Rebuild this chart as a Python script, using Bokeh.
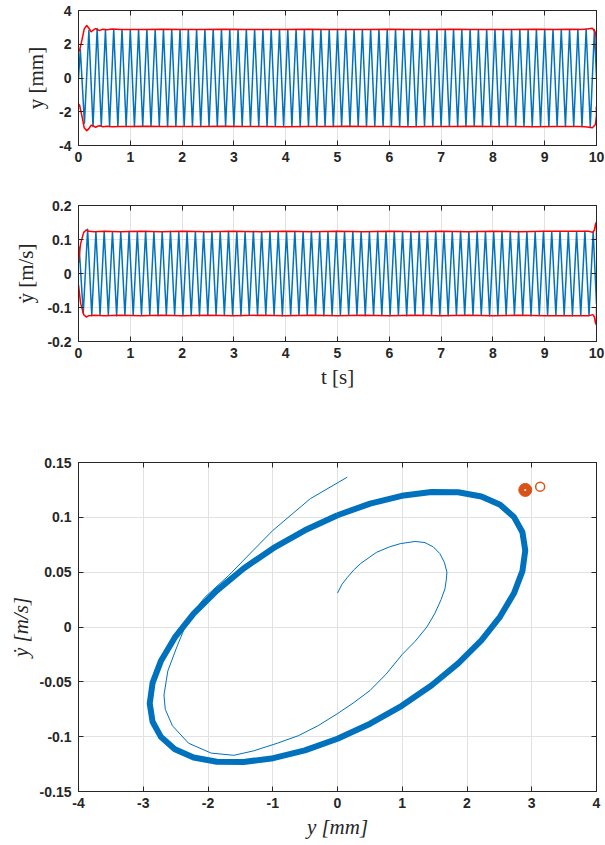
from bokeh.plotting import figure
from bokeh.layouts import column
from bokeh.models import LinearAxis, FixedTicker, Range1d, Grid, CustomJSTickFormatter
from bokeh.embed import file_html
from bokeh.resources import INLINE

BLUE = "#0072BD"
RED = "#FF0000"
ORANGE = "#D95319"
AXC = "#262626"

# ---------------- time series: displacement y [mm] (extrema of the oscillation) ----------------
y_t = [0.000, 0.035, 0.115,
       0.20, 0.28, 0.36, 0.44, 0.52, 0.60, 0.68, 0.76, 0.84, 0.92,
       1.00, 1.08, 1.16, 1.24, 1.32, 1.40, 1.48, 1.56, 1.64, 1.72, 1.80, 1.88, 1.96,
       2.04, 2.12, 2.20, 2.28, 2.36, 2.44, 2.52, 2.60, 2.68, 2.76, 2.84, 2.92,
       3.00, 3.08, 3.16, 3.24, 3.32, 3.40, 3.48, 3.56, 3.64, 3.72, 3.80, 3.88, 3.96,
       4.04, 4.12, 4.20, 4.28, 4.36, 4.44, 4.52, 4.60, 4.68, 4.76, 4.84, 4.92,
       5.00, 5.08, 5.16, 5.24, 5.32, 5.40, 5.48, 5.56, 5.64, 5.72, 5.80, 5.88, 5.96,
       6.04, 6.12, 6.20, 6.28, 6.36, 6.44, 6.52, 6.60, 6.68, 6.76, 6.84, 6.92,
       7.00, 7.08, 7.16, 7.24, 7.32, 7.40, 7.48, 7.56, 7.64, 7.72, 7.80, 7.88, 7.96,
       8.04, 8.12, 8.20, 8.28, 8.36, 8.44, 8.52, 8.60, 8.68, 8.76, 8.84, 8.92,
       9.00, 9.08, 9.16, 9.24, 9.32, 9.40, 9.48, 9.56, 9.64, 9.72, 9.80, 9.88, 9.96,
       10.00]
y_val = [0.0, 1.69, -2.68,
         2.82, -2.88, 2.93, -2.85, 2.84, -2.87, 2.88, -2.86, 2.87, -2.87,
         2.86, -2.88, 2.87, -2.86, 2.88, -2.87, 2.86, -2.86, 2.87, -2.88, 2.86, -2.87, 2.88,
         -2.86, 2.87, -2.87, 2.86, -2.88, 2.87, -2.86, 2.88, -2.87, 2.86, -2.86, 2.87,
         -2.88, 2.86, -2.87, 2.88, -2.86, 2.87, -2.87, 2.86, -2.88, 2.87, -2.86, 2.88, -2.87,
         2.86, -2.86, 2.87, -2.88, 2.86, -2.87, 2.88, -2.86, 2.87, -2.87, 2.86, -2.88,
         2.87, -2.86, 2.88, -2.87, 2.86, -2.86, 2.87, -2.88, 2.86, -2.87, 2.88, -2.86, 2.87,
         -2.87, 2.86, -2.88, 2.87, -2.86, 2.88, -2.87, 2.86, -2.86, 2.87, -2.88, 2.86,
         -2.87, 2.88, -2.86, 2.87, -2.87, 2.86, -2.88, 2.87, -2.86, 2.88, -2.87, 2.86, -2.86,
         2.87, -2.88, 2.86, -2.87, 2.88, -2.86, 2.87, -2.87, 2.86, -2.88, 2.87, -2.86,
         2.88, -2.87, 2.86, -2.86, 2.87, -2.88, 2.86, -2.87, 2.89, -2.88, 2.90, -2.90, 2.88,
         0.0]

# envelope of y (red)
env_y_t = [0.00, 0.02, 0.07, 0.11, 0.16, 0.20, 0.245, 0.29, 0.33, 0.37,
           0.41, 0.47, 0.55, 0.65, 0.80, 1.00, 1.30, 1.60, 2.00, 2.40,
           2.80, 3.20, 3.60, 4.00, 4.40, 4.80, 5.20, 5.60, 6.00, 6.40,
           6.80, 7.20, 7.60, 8.00, 8.40, 8.80, 9.20, 9.50, 9.70, 9.82,
           9.92, 9.98, 10.00, 9.995]
env_y_up = [1.59, 1.62, 2.30, 2.90, 3.11, 2.95, 2.74, 2.85, 2.93, 2.86,
            2.82, 2.89, 2.86, 2.90, 2.87, 2.88, 2.87, 2.89, 2.88, 2.87,
            2.89, 2.88, 2.87, 2.88, 2.89, 2.87, 2.88, 2.87, 2.89, 2.88,
            2.87, 2.89, 2.88, 2.87, 2.88, 2.89, 2.87, 2.89, 2.88, 2.91,
            2.95, 2.70, 2.20, 1.65]
env_y_lo = [-1.55, -1.60, -2.30, -2.95, -3.12, -3.00, -2.80, -2.84, -2.92, -2.86,
            -2.83, -2.89, -2.86, -2.89, -2.87, -2.88, -2.86, -2.88, -2.87, -2.88,
            -2.86, -2.88, -2.87, -2.89, -2.87, -2.88, -2.86, -2.88, -2.87, -2.89,
            -2.87, -2.88, -2.86, -2.88, -2.87, -2.89, -2.87, -2.88, -2.87, -2.90,
            -2.95, -2.75, -2.20, -1.70]

# ---------------- time series: velocity ydot [m/s] (extrema) ----------------
v_t = [0.000, 0.012, 0.092,
       0.176, 0.256, 0.336, 0.416, 0.496, 0.576, 0.656, 0.736, 0.816, 0.896,
       0.976, 1.056, 1.136, 1.216, 1.296, 1.376, 1.456, 1.536, 1.616, 1.696, 1.776, 1.856, 1.936,
       2.016, 2.096, 2.176, 2.256, 2.336, 2.416, 2.496, 2.576, 2.656, 2.736, 2.816, 2.896,
       2.976, 3.056, 3.136, 3.216, 3.296, 3.376, 3.456, 3.536, 3.616, 3.696, 3.776, 3.856, 3.936,
       4.016, 4.096, 4.176, 4.256, 4.336, 4.416, 4.496, 4.576, 4.656, 4.736, 4.816, 4.896,
       4.976, 5.056, 5.136, 5.216, 5.296, 5.376, 5.456, 5.536, 5.616, 5.696, 5.776, 5.856, 5.936,
       6.016, 6.096, 6.176, 6.256, 6.336, 6.416, 6.496, 6.576, 6.656, 6.736, 6.816, 6.896,
       6.976, 7.056, 7.136, 7.216, 7.296, 7.376, 7.456, 7.536, 7.616, 7.696, 7.776, 7.856, 7.936,
       8.016, 8.096, 8.176, 8.256, 8.336, 8.416, 8.496, 8.576, 8.656, 8.736, 8.816, 8.896,
       8.976, 9.056, 9.136, 9.216, 9.296, 9.376, 9.456, 9.536, 9.616, 9.696, 9.776, 9.856, 9.936,
       10.000]
v_val = [0.031, 0.078, -0.117,
         0.130, -0.124, 0.123, -0.123, 0.124, -0.122, 0.123, -0.124, 0.122, -0.123,
         0.124, -0.123, 0.123, -0.122, 0.124, -0.123, 0.123, -0.124, 0.122, -0.123, 0.124, -0.123, 0.123,
         -0.122, 0.124, -0.123, 0.123, -0.124, 0.122, -0.123, 0.124, -0.123, 0.123, -0.122, 0.124,
         -0.123, 0.123, -0.124, 0.122, -0.123, 0.124, -0.123, 0.123, -0.122, 0.124, -0.123, 0.123, -0.124,
         0.122, -0.123, 0.124, -0.123, 0.123, -0.122, 0.124, -0.123, 0.123, -0.124, 0.122, -0.123,
         0.124, -0.123, 0.123, -0.122, 0.124, -0.123, 0.123, -0.124, 0.122, -0.123, 0.124, -0.123, 0.123,
         -0.122, 0.124, -0.123, 0.123, -0.124, 0.122, -0.123, 0.124, -0.123, 0.123, -0.122, 0.124,
         -0.123, 0.123, -0.124, 0.122, -0.123, 0.124, -0.123, 0.123, -0.122, 0.124, -0.123, 0.123, -0.124,
         0.122, -0.123, 0.124, -0.123, 0.123, -0.122, 0.124, -0.123, 0.123, -0.124, 0.122, -0.123,
         0.124, -0.123, 0.123, -0.122, 0.124, -0.123, 0.123, -0.124, 0.122, -0.123, 0.124, -0.123, 0.123,
         -0.090]

# envelope of ydot (red)
env_v_t = [0.00, 0.04, 0.10, 0.15, 0.20, 0.30, 0.50, 0.80, 1.20, 1.60,
           2.00, 2.50, 3.00, 3.50, 4.00, 4.50, 5.00, 5.50, 6.00, 6.50,
           7.00, 7.50, 8.00, 8.50, 9.00, 9.50, 9.85, 9.93, 9.96, 9.98,
           10.00, 10.00]
env_v_up = [0.033, 0.087, 0.121, 0.128, 0.124, 0.123, 0.124, 0.123, 0.124, 0.123,
            0.124, 0.123, 0.124, 0.123, 0.124, 0.123, 0.124, 0.123, 0.124, 0.123,
            0.124, 0.123, 0.124, 0.123, 0.124, 0.124, 0.124, 0.121, 0.128, 0.145,
            0.151, 0.100]
env_v_lo = [-0.033, -0.087, -0.121, -0.128, -0.124, -0.123, -0.124, -0.123, -0.124, -0.123,
            -0.124, -0.123, -0.124, -0.123, -0.124, -0.123, -0.124, -0.123, -0.124, -0.123,
            -0.124, -0.123, -0.124, -0.123, -0.124, -0.124, -0.124, -0.121, -0.128, -0.145,
            -0.151, -0.100]

# ---------------- phase portrait ----------------
# steady-state limit cycle (thick band), points read around the loop
band_y = [0.000, 0.504, 0.992, 1.450, 1.864, 2.222, 2.512, 2.725, 2.856,
          2.900, 2.856, 2.725, 2.512, 2.222, 1.864, 1.450, 0.992, 0.504,
          0.000, -0.504, -0.992, -1.450, -1.864, -2.222, -2.512, -2.725, -2.856,
          -2.900, -2.856, -2.725, -2.512, -2.222, -1.864, -1.450, -0.992, -0.504,
          0.000]
band_v = [0.1019, 0.1125, 0.1196, 0.1231, 0.1229, 0.1190, 0.1114, 0.1004, 0.0864,
          0.0698, 0.0510, 0.0307, 0.0095, -0.0121, -0.0332, -0.0534, -0.0719, -0.0882,
          -0.1019, -0.1125, -0.1196, -0.1231, -0.1229, -0.1190, -0.1114, -0.1004, -0.0864,
          -0.0698, -0.0510, -0.0307, -0.0095, 0.0121, 0.0332, 0.0534, 0.0719, 0.0882,
          0.1019]
# start-up transient (thin line)
thin_y = [0.00, 0.07, 0.15, 0.25, 0.36, 0.60, 0.80, 0.97, 1.20, 1.35,
          1.48, 1.58, 1.65, 1.69, 1.68, 1.66, 1.60, 1.50, 1.38, 1.20,
          1.00, 0.75, 0.50, 0.25, 0.00, -0.30, -0.60, -0.93, -1.30, -1.60,
          -1.95, -2.30, -2.55, -2.66, -2.68, -2.62, -2.48, -2.30, -2.05, -1.68,
          -1.30, -1.00, -0.42, 0.15]
thin_v = [0.031, 0.039, 0.045, 0.052, 0.058, 0.068, 0.073, 0.076, 0.078, 0.077,
          0.073, 0.067, 0.059, 0.050, 0.043, 0.035, 0.025, 0.012, 0.000, -0.013,
          -0.025, -0.043, -0.058, -0.069, -0.079, -0.090, -0.099, -0.106, -0.113, -0.117,
          -0.115, -0.106, -0.090, -0.075, -0.062, -0.040, -0.018, 0.008, 0.027, 0.047,
          0.070, 0.088, 0.117, 0.1366]
mk_fill_y = [2.90]
mk_fill_v = [0.125]
mk_open_y = [3.13]
mk_open_v = [0.128]

# ticks
t_ticks = [0, 1, 2, 3, 4, 5, 6, 7, 8, 9, 10]
y_ticks = [-4, -2, 0, 2, 4]
v_ticks = [-0.2, -0.1, 0, 0.1, 0.2]
ph_x_ticks = [-4, -3, -2, -1, 0, 1, 2, 3, 4]
ph_y_ticks = [-0.15, -0.1, -0.05, 0, 0.05, 0.1, 0.15]


def style_axis(ax, hidden=False):
    ax.axis_line_color = AXC
    ax.axis_line_width = 1
    ax.major_tick_line_color = AXC
    ax.major_tick_line_width = 1
    ax.major_tick_in = 5
    ax.major_tick_out = 0
    ax.minor_tick_line_color = None
    if hidden:
        ax.major_label_text_font_size = "0px"
        ax.major_label_standoff = 0
        ax.axis_label = None
    else:
        ax.major_label_text_font = "Liberation Sans"
        ax.major_label_text_font_style = "bold"
        ax.major_label_text_font_size = "14px"
        ax.major_label_text_color = AXC
        ax.axis_label_text_font = "Liberation Serif"
        ax.axis_label_text_font_size = "21px"
        ax.axis_label_text_color = AXC


def make_fig(x_rng, y_rng, fh, top, bottom, xt, yt, xlabel, ylabel, label_style="normal",
             ylab_standoff=8, xlab_standoff=4):
    p = figure(x_range=Range1d(*x_rng), y_range=Range1d(*y_rng),
               frame_width=518, frame_height=fh,
               min_border_left=78, min_border_right=9,
               min_border_top=top, min_border_bottom=bottom,
               output_backend="svg", toolbar_location=None,
               x_axis_type=None, y_axis_type=None)
    p.outline_line_color = AXC
    p.outline_line_width = 1
    p.background_fill_color = "white"
    p.border_fill_color = "white"
    fmt = CustomJSTickFormatter(code="return tick.toString();")
    blank = CustomJSTickFormatter(code="return '';")
    xa = LinearAxis(ticker=FixedTicker(ticks=xt), formatter=fmt)
    ya = LinearAxis(ticker=FixedTicker(ticks=yt), formatter=fmt)
    style_axis(xa)
    style_axis(ya)
    xa.major_label_standoff = 6
    ya.major_label_standoff = 7
    if xlabel:
        xa.axis_label = xlabel
        xa.axis_label_text_font_style = label_style
        xa.axis_label_standoff = xlab_standoff
    ya.axis_label = ylabel
    ya.axis_label_text_font_style = label_style
    ya.axis_label_standoff = ylab_standoff
    xa2 = LinearAxis(ticker=FixedTicker(ticks=xt), formatter=blank)
    ya2 = LinearAxis(ticker=FixedTicker(ticks=yt), formatter=blank)
    style_axis(xa2, hidden=True)
    style_axis(ya2, hidden=True)
    p.add_layout(xa, "below")
    p.add_layout(ya, "left")
    p.add_layout(xa2, "above")
    p.add_layout(ya2, "right")
    p.add_layout(Grid(dimension=0, ticker=FixedTicker(ticks=xt),
                      grid_line_color="#e2e2e2", grid_line_width=1))
    p.add_layout(Grid(dimension=1, ticker=FixedTicker(ticks=yt),
                      grid_line_color="#e2e2e2", grid_line_width=1))
    return p


# top: y
p1 = make_fig((0, 10), (-4, 4), 135, 10, 30, t_ticks, y_ticks, None, "y [mm]", ylab_standoff=8)
p1.line(y_t, y_val, line_color=BLUE, line_width=1.5, line_join="round")
p1.line(env_y_t, env_y_up, line_color=RED, line_width=1.5, line_join="round")
p1.line(env_y_t, env_y_lo, line_color=RED, line_width=1.5, line_join="round")

# middle: ydot
p2 = make_fig((0, 10), (-0.2, 0.2), 136, 30, 60, t_ticks, v_ticks, "t [s]", "ẏ [m/s]",
              ylab_standoff=6)
p2.line(v_t, v_val, line_color=BLUE, line_width=1.5, line_join="round")
p2.line(env_v_t, env_v_up, line_color=RED, line_width=1.5, line_join="round")
p2.line(env_v_t, env_v_lo, line_color=RED, line_width=1.5, line_join="round")

# bottom: phase portrait
p3 = make_fig((-4, 4), (-0.15, 0.15), 329, 61, 50, ph_x_ticks, ph_y_ticks,
              "y [mm]", "ẏ [m/s]", label_style="italic", ylab_standoff=4)
p3.line(band_y, band_v, line_color=BLUE, line_width=6, line_join="round")
p3.line(thin_y, thin_v, line_color=BLUE, line_width=1, line_join="round")
p3.scatter(mk_fill_y, mk_fill_v, size=13, fill_color=ORANGE, line_color=ORANGE)
p3.scatter(mk_fill_y, mk_fill_v, size=2, fill_color="white", line_color=None)
p3.scatter(mk_open_y, mk_open_v, size=9, fill_color=None, line_color=ORANGE, line_width=1.5)

layout = column(p1, p2, p3)
open("out.html", "w").write(file_html(layout, INLINE))
